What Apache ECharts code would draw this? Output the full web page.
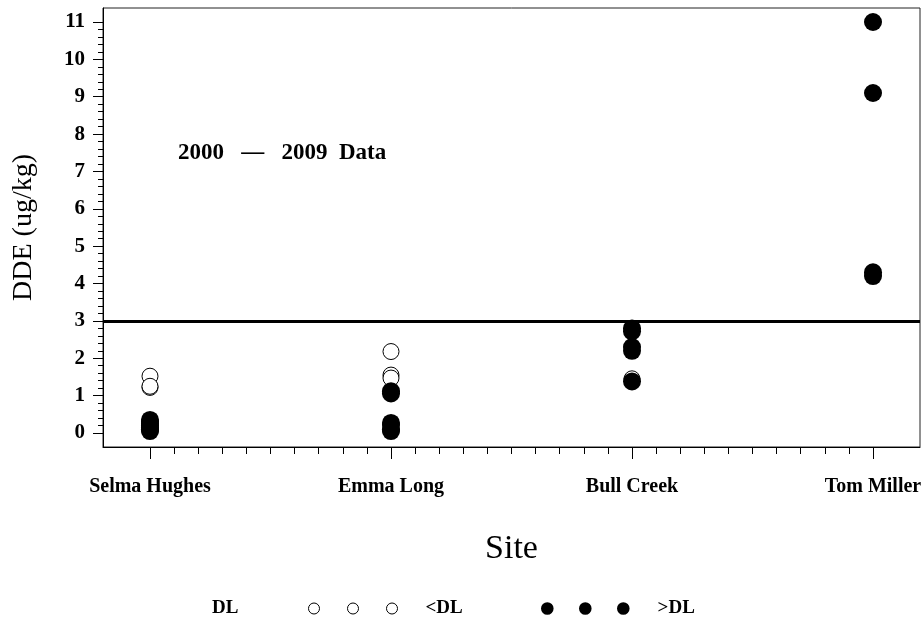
<!DOCTYPE html>
<html>
<head>
<meta charset="utf-8">
<script src="https://cdn.jsdelivr.net/npm/echarts@6/dist/echarts.min.js"></script>
<style>
  html, body { margin: 0; padding: 0; background: #fff; }
  #chart { width: 923px; height: 623px; }
</style>
</head>
<body>
<div id="chart"></div>
<script>
// Sampling sites along the x axis (positions 1..4)
const sites = ['Selma Hughes', 'Emma Long', 'Bull Creek', 'Tom Miller'];
const sitePositions = [1, 2, 3, 4];
const yTickValues = [0, 1, 2, 3, 4, 5, 6, 7, 8, 9, 10, 11];
const screeningLevel = 3;

// DDE (ug/kg) results per site, 2000-2009
const belowDL = [
  [1.52, 1.22, 1.25],
  [2.18, 1.55, 1.47],
  [1.45],
  []
];
const aboveDL = [
  [0.35, 0.3, 0.25, 0.2, 0.15, 0.1, 0.05],
  [1.12, 1.06, 0.27, 0.22, 0.1, 0.05],
  [2.8, 2.72, 2.3, 2.2, 1.38],
  [11, 9.1, 4.3, 4.2]
];

const FONT = '"Liberation Serif", "Times New Roman", serif';

function toPoints(groups) {
  const pts = [];
  groups.forEach((vals, i) => vals.forEach(v => pts.push([sitePositions[i], v])));
  return pts;
}

// Minor tick positions between major ticks
function minorTicks(from, to, step, majors) {
  const out = [];
  const n = Math.round((to - from) / step);
  for (let i = 0; i <= n; i++) {
    const v = +(from + i * step).toFixed(4);
    if (!majors.some(m => Math.abs(m - v) < 1e-6)) out.push(v);
  }
  return out;
}

// Three circles side by side for the legend icons
function circlesPath(r, gap) {
  let d = '';
  for (let k = 0; k < 3; k++) {
    const x0 = k * gap;
    d += `M${x0},${r} A${r},${r} 0 1,1 ${x0 + 2 * r},${r} A${r},${r} 0 1,1 ${x0},${r} Z `;
  }
  return 'path://' + d;
}

const xMin = 0.805, xMax = 4.195;
const yMin = -0.375, yMax = 11.375;

const chart = echarts.init(document.getElementById('chart'));
chart.setOption({
  animation: false,
  backgroundColor: '#fff',
  title: [
    {
      text: '2000   \u2014   2009  Data',
      left: 178, top: 142, padding: 0,
      textStyle: { fontFamily: FONT, fontWeight: 'bold', fontSize: 23, color: '#000' }
    },
    {
      text: 'DL',
      left: 212, top: 599, padding: 0,
      textStyle: { fontFamily: FONT, fontWeight: 'bold', fontSize: 19, color: '#000' }
    }
  ],
  legend: [
    {
      data: ['<DL'],
      left: 308, top: 599, padding: 0,
      icon: circlesPath(5.5, 39),
      itemWidth: 89, itemHeight: 11,
      itemStyle: { color: '#fff', borderColor: '#000', borderWidth: 1 },
      textStyle: { fontFamily: FONT, fontWeight: 'bold', fontSize: 19, color: '#000', padding: [0, 0, 0, 23] }
    },
    {
      data: ['>DL'],
      left: 541, top: 599, padding: 0,
      icon: circlesPath(6.3, 38),
      itemWidth: 88.6, itemHeight: 12.6,
      itemStyle: { color: '#000', borderColor: '#000', borderWidth: 0 },
      textStyle: { fontFamily: FONT, fontWeight: 'bold', fontSize: 19, color: '#000', padding: [0, 0, 0, 23] }
    }
  ],
  grid: {
    left: 103, right: 3, top: 8, bottom: 176,
    show: true, borderColor: '#222', borderWidth: 1,
    containLabel: false, outerBoundsMode: 'none'
  },
  xAxis: [
    {
      type: 'value', min: xMin, max: xMax, position: 'bottom',
      name: 'Site', nameLocation: 'middle', nameGap: 85,
      nameTextStyle: { fontFamily: FONT, fontSize: 34, color: '#000' },
      axisLine: { show: true, onZero: false, lineStyle: { color: '#000', width: 1 } },
      axisTick: { show: true, customValues: sitePositions, length: 12, lineStyle: { color: '#000' } },
      axisLabel: {
        customValues: sitePositions, margin: 30,
        formatter: v => sites[Math.round(v) - 1] || '',
        fontFamily: FONT, fontWeight: 'bold', fontSize: 20, color: '#000'
      },
      splitLine: { show: false }
    },
    {
      type: 'value', min: xMin, max: xMax, position: 'bottom',
      axisLine: { show: false, onZero: false },
      axisTick: { show: true, customValues: minorTicks(1, 4, 0.1, sitePositions), length: 7, lineStyle: { color: '#000' } },
      axisLabel: { show: false },
      splitLine: { show: false }
    }
  ],
  yAxis: [
    {
      type: 'value', min: yMin, max: yMax, position: 'left',
      name: 'DDE (ug/kg)', nameLocation: 'middle', nameGap: 65,
      nameTextStyle: { fontFamily: FONT, fontSize: 28, color: '#000' },
      axisLine: { show: true, onZero: false, lineStyle: { color: '#000', width: 1 } },
      axisTick: { show: true, customValues: yTickValues, length: 10, lineStyle: { color: '#000' } },
      axisLabel: {
        customValues: yTickValues, margin: 18,
        fontFamily: FONT, fontWeight: 'bold', fontSize: 21, color: '#000'
      },
      splitLine: { show: false }
    },
    {
      type: 'value', min: yMin, max: yMax, position: 'left',
      axisLine: { show: false, onZero: false },
      axisTick: { show: true, customValues: minorTicks(0, 11, 0.2, yTickValues), length: 5, lineStyle: { color: '#000' } },
      axisLabel: { show: false },
      splitLine: { show: false }
    }
  ],
  series: [
    {
      name: '<DL', type: 'scatter', xAxisIndex: 0, yAxisIndex: 0,
      symbol: 'circle', symbolSize: 16,
      itemStyle: { color: '#fff', borderColor: '#000', borderWidth: 1, opacity: 1 },
      data: toPoints(belowDL),
      z: 3,
      markLine: {
        silent: true, symbol: ['none', 'none'],
        label: { show: false },
        lineStyle: { color: '#000', width: 3, type: 'solid' },
        data: [{ yAxis: screeningLevel }]
      }
    },
    {
      name: '>DL', type: 'scatter', xAxisIndex: 0, yAxisIndex: 0,
      symbol: 'circle', symbolSize: 18,
      itemStyle: { color: '#000', opacity: 1 },
      data: toPoints(aboveDL),
      z: 4
    }
  ]
});
</script>
</body>
</html>
